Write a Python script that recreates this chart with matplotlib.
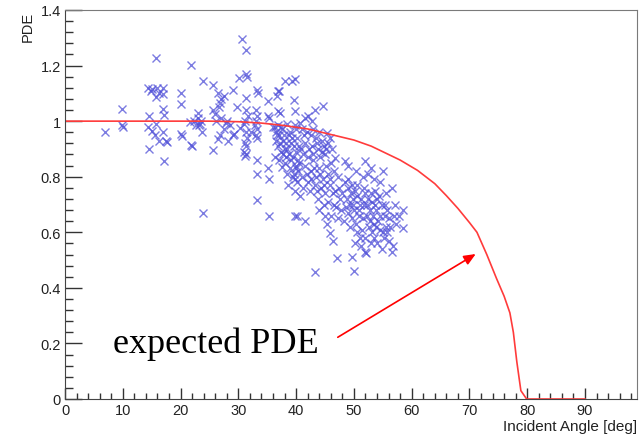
import numpy as np
import matplotlib
matplotlib.use("Agg")
import matplotlib.pyplot as plt
from matplotlib.ticker import MultipleLocator, FormatStrFormatter

pts_low = [
    (6.9, 0.96), (9.9, 1.045), (9.9, 0.985), (10.1, 0.98),
    (14.4, 1.12), (15.0, 1.117), (15.9, 1.12), (17.0, 1.12), (17.0, 1.097),
    (15.7, 1.086), (15.7, 1.227), (17.0, 1.045), (17.1, 1.023), (14.5, 1.02),
    (14.4, 0.98), (15.0, 0.965), (15.8, 0.99), (15.5, 0.95), (16.3, 0.93),
    (17.0, 0.96), (17.5, 0.93), (17.6, 0.925), (14.5, 0.90), (17.1, 0.855),
    (14.8, 1.11), (16.2, 1.10),
    (20.0, 1.10), (20.0, 1.06), (21.8, 1.203), (20.0, 0.953), (20.2, 0.948),
    (21.8, 0.915), (22.0, 0.91), (21.6, 0.998), (22.3, 1.0), (23.0, 1.01),
    (23.3, 0.99), (22.6, 0.985), (23.9, 0.67),
]
pts_25 = [
    (23.9, 1.144), (23.1, 1.03), (23.5, 1.0), (23.2, 0.985), (23.7, 0.96),
    (25.6, 1.13), (26.4, 1.10), (27.0, 1.08), (27.5, 1.09), (26.9, 1.065),
    (26.6, 1.05), (25.6, 1.04), (26.0, 1.025), (26.2, 1.0), (27.0, 1.01),
    (27.8, 0.995), (28.0, 1.0), (27.5, 0.97), (26.9, 0.95), (26.5, 0.935),
    (25.6, 0.895), (28.2, 0.93), (29.0, 0.95), (29.2, 0.955), (29.0, 1.113),
    (28.5, 0.985),
]
pts_30 = [
    (30.6, 1.297), (31.3, 1.256), (31.3, 1.17), (31.5, 1.16), (30.1, 1.155),
    (31.3, 1.083), (31.3, 1.04), (31.6, 1.02), (31.2, 1.0), (31.0, 0.99),
    (30.3, 0.975), (31.3, 0.96), (31.5, 0.94), (31.2, 0.92), (31.4, 0.91),
    (31.0, 0.89), (31.3, 0.88), (31.1, 0.873), (33.2, 1.112), (33.4, 1.10),
    (33.0, 1.04), (33.3, 1.02), (33.1, 1.0), (32.9, 0.985), (33.3, 0.97),
    (33.0, 0.95), (33.2, 0.94), (33.3, 0.86), (33.3, 0.81), (33.2, 0.716),
    (32.2, 0.96), (29.8, 1.05),
]
pts_37 = [
    (35.1, 1.073), (35.1, 1.02), (35.3, 1.01), (36.9, 1.108), (37.1, 1.11),
    (36.7, 1.09), (38.1, 1.144), (39.3, 1.144), (39.6, 1.077), (39.8, 1.036),
    (36.9, 1.036), (37.2, 1.03), (35.1, 0.83), (35.3, 0.79), (35.3, 0.66),
    (36.3, 0.98), (36.5, 0.96), (36.8, 0.985), (37.0, 0.95), (36.6, 0.93),
    (36.9, 0.91), (37.3, 0.89), (37.6, 0.97), (37.9, 0.95), (38.2, 0.92),
    (38.5, 0.90), (38.8, 0.88), (39.0, 0.96), (39.3, 0.94), (39.6, 0.91),
    (39.8, 0.985), (36.4, 0.87), (37.0, 0.86), (37.5, 0.836), (38.6, 0.77),
    (39.8, 0.75), (39.8, 0.79), (39.6, 0.81), (39.9, 0.83), (40.0, 0.84),
    (39.8, 0.66), (39.8, 1.15), (38.4, 0.99), (36.0, 0.98),
    (39.2, 0.86), (39.5, 0.87), (40.3, 0.86), (40.5, 0.85), (39.4, 0.80),
    (40.1, 0.78), (40.4, 0.82), (38.9, 0.83),
]
pts_44 = [
    (40.7, 0.993), (41.5, 1.01), (42.0, 1.02), (43.3, 1.04), (42.7, 1.0),
    (44.6, 1.054), (41.0, 0.97), (41.8, 0.96), (42.5, 0.95), (43.0, 0.97),
    (43.5, 0.94), (44.0, 0.96), (44.5, 0.93), (45.3, 0.957), (45.8, 0.94),
    (46.2, 0.90), (45.5, 0.92), (44.8, 0.91), (43.8, 0.90), (42.8, 0.91),
    (41.5, 0.92), (40.8, 0.90), (41.2, 0.88), (42.0, 0.87), (43.0, 0.86),
    (44.2, 0.87), (45.0, 0.88), (46.7, 0.866), (46.0, 0.85), (45.2, 0.84),
    (44.0, 0.83), (42.5, 0.82), (41.6, 0.84), (43.5, 0.80), (44.6, 0.79),
    (45.5, 0.81), (46.5, 0.82), (47.2, 0.80), (43.3, 0.77), (44.3, 0.76),
    (45.0, 0.74), (45.8, 0.77), (46.8, 0.75), (47.5, 0.76), (43.8, 0.72),
    (44.8, 0.70), (45.6, 0.71), (46.5, 0.70), (47.6, 0.72), (48.0, 0.74),
    (41.5, 0.64), (40.1, 0.66), (45.0, 0.657), (45.8, 0.596), (46.4, 0.57),
    (43.3, 0.458), (47.0, 0.509), (42.0, 0.78), (41.0, 0.80), (40.6, 0.73),
    (47.8, 0.68), (46.0, 0.66),
]
pts_50 = [
    (48.4, 0.855), (51.9, 0.855), (48.5, 0.78), (49.0, 0.76), (49.5, 0.74),
    (48.8, 0.72), (49.3, 0.70), (49.8, 0.72), (50.2, 0.75), (50.5, 0.77),
    (49.0, 0.67), (49.6, 0.65), (50.0, 0.68), (50.4, 0.63), (49.4, 0.62),
    (50.8, 0.66), (51.0, 0.70), (51.2, 0.72), (48.3, 0.64), (49.7, 0.512),
    (50.0, 0.462), (51.9, 0.53), (52.1, 0.525), (51.4, 0.61), (51.0, 0.58),
    (50.5, 0.60), (51.5, 0.80), (50.3, 0.82), (49.0, 0.84), (51.8, 0.76),
    (52.0, 0.74), (48.6, 0.69),
]
pts_55 = [
    (52.2, 0.70), (52.5, 0.72), (52.8, 0.68), (53.0, 0.74), (53.3, 0.66),
    (53.6, 0.70), (54.0, 0.72), (54.2, 0.64), (52.6, 0.62), (53.2, 0.60),
    (53.8, 0.62), (54.5, 0.66), (54.8, 0.70), (55.0, 0.60), (55.4, 0.70),
    (55.2, 0.58), (54.0, 0.56), (53.5, 0.58), (52.8, 0.64), (55.6, 0.74),
    (56.6, 0.758), (57.1, 0.697), (58.5, 0.68), (58.5, 0.614), (56.7, 0.549),
    (56.6, 0.53), (56.0, 0.65), (56.3, 0.62), (55.8, 0.68), (54.6, 0.78),
    (53.5, 0.79), (52.4, 0.81), (53.0, 0.83), (55.0, 0.82), (57.3, 0.63),
    (56.0, 0.57), (54.8, 0.54), (52.0, 0.58), (57.8, 0.66), (55.5, 0.62),
]
# extra points in the crowded parts of the cloud
pts_dense = [
    (37.4, 0.98), (37.8, 0.93), (38.0, 0.90), (38.3, 0.87), (37.7, 0.88),
    (38.7, 0.95), (39.1, 0.92), (36.7, 0.95), (38.1, 0.85), (39.9, 0.89),
    (40.2, 0.94), (40.5, 0.91), (38.5, 0.81), (37.2, 0.92), (40.0, 0.97),
    (41.3, 0.95), (42.2, 0.90), (42.9, 0.88), (43.6, 0.92), (44.4, 0.89),
    (45.2, 0.90), (41.8, 0.81), (42.6, 0.79), (43.1, 0.83), (44.1, 0.81),
    (44.9, 0.77), (45.9, 0.79), (46.3, 0.74), (43.6, 0.75), (42.4, 0.75),
    (44.0, 0.68), (46.9, 0.69), (47.3, 0.65), (45.3, 0.63), (41.2, 0.76),
    (48.9, 0.79), (49.6, 0.77), (50.6, 0.73), (49.9, 0.70), (50.9, 0.68),
    (51.5, 0.65), (52.3, 0.66), (51.7, 0.70), (53.1, 0.71), (53.9, 0.68),
    (54.4, 0.73), (53.4, 0.63), (54.6, 0.61), (55.3, 0.66), (52.9, 0.56),
    (51.3, 0.55), (50.2, 0.56), (53.7, 0.75), (55.8, 0.60), (56.9, 0.66),
]

# expected PDE curve
curve_angle = [0, 25, 30, 34, 38, 42, 46, 50, 53, 55, 58, 61, 64, 66, 68,
               70, 71.3, 73, 74.7, 76, 77, 77.6, 78.2, 78.9, 79.9, 90]
curve_pde = [1.0, 1.0, 0.998, 0.993, 0.984, 0.972, 0.952, 0.932, 0.91, 0.89,
             0.86, 0.823, 0.775, 0.732, 0.686, 0.635, 0.60, 0.52, 0.433, 0.37,
             0.31, 0.24, 0.134, 0.03, 0.0, 0.0]

pts = np.array(pts_low + pts_25 + pts_30 + pts_37 + pts_44 + pts_50 + pts_55 + pts_dense)

plt.rcParams['font.family'] = ['Liberation Sans', 'DejaVu Sans']

fig = plt.figure(figsize=(6.43, 4.35), dpi=100)
ax = fig.add_axes([65 / 643, 35 / 435, 572 / 643, 389 / 435])

ax.plot(pts[:, 0], pts[:, 1], 'x', color='#5050d8', alpha=0.75,
        markersize=6, markeredgewidth=1.0)
ax.plot(curve_angle, curve_pde, color='#ff3b3b', lw=1.2)

ax.annotate('', xy=(71.5, 0.527), xytext=(46.8, 0.217),
            arrowprops=dict(arrowstyle='-|>,head_length=0.7,head_width=0.3',
                            color='red', lw=1.2))
ax.text(8.3, 0.17, 'expected PDE', family='Liberation Serif', fontsize=26,
        ha='left', va='baseline')

ax.set_xlim(0, 99)
ax.set_ylim(0, 1.4)
ax.xaxis.set_major_locator(MultipleLocator(10))
ax.xaxis.set_minor_locator(MultipleLocator(2))
ax.yaxis.set_major_locator(MultipleLocator(0.2))
ax.yaxis.set_minor_locator(MultipleLocator(0.04))
ax.yaxis.set_major_formatter(FormatStrFormatter('%g'))
ax.set_xticks([0, 10, 20, 30, 40, 50, 60, 70, 80, 90])

ax.tick_params(axis='both', which='both', direction='in', colors='#333333',
               labelcolor='#222222', labelsize=10.5, top=False, right=False)
ax.tick_params(axis='y', which='major', length=12, width=1, pad=3)
ax.tick_params(axis='y', which='minor', length=6, width=1)
ax.tick_params(axis='x', which='major', length=8, width=1, pad=3)
ax.tick_params(axis='x', which='minor', length=4, width=1)

for side in ['left', 'bottom']:
    ax.spines[side].set_color('#444444')
for side in ['top', 'right']:
    ax.spines[side].set_color('#7a7a7a')

fig.text(637 / 643, 1 - 427 / 435, 'Incident Angle [deg]', ha='right', va='center',
         fontsize=11, color='#222222')
fig.text(28 / 643, 1 - 12 / 435, 'PDE', rotation=90, ha='center', va='top',
         fontsize=10.5, color='#222222')

fig.savefig('out.png', dpi=100)
